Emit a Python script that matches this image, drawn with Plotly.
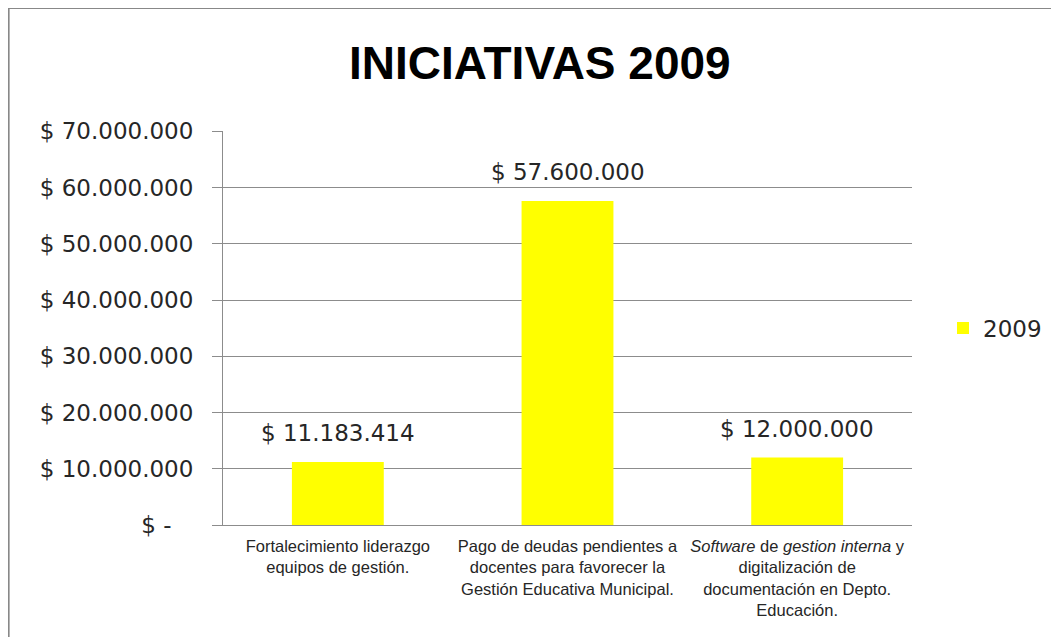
import plotly.graph_objects as go

categories = [
    "Fortalecimiento liderazgo<br>equipos de gestión.",
    "Pago de deudas pendientes a<br>docentes para favorecer la<br>Gestión Educativa Municipal.",
    "<i>Software</i> de <i>gestion interna</i> y<br>digitalización de<br>documentación en Depto.<br>Educación.",
]
values_2009 = [11183414, 57600000, 12000000]
value_labels = ["$ 11.183.414", "$ 57.600.000", "$ 12.000.000"]
tick_values = [0, 10000000, 20000000, 30000000, 40000000, 50000000, 60000000, 70000000]
tick_labels = ["$ -   ", "$ 10.000.000", "$ 20.000.000", "$ 30.000.000", "$ 40.000.000",
               "$ 50.000.000", "$ 60.000.000", "$ 70.000.000"]

BIG = dict(family="DejaVu Sans", size=23, color="#262626")

fig = go.Figure()
fig.add_trace(go.Bar(
    x=categories, y=values_2009, name="2009",
    marker=dict(color="#FFFF00", line=dict(width=0)),
    width=0.40,
))
for c, v, t in zip(categories, values_2009, value_labels):
    fig.add_annotation(x=c, y=v, text=t, showarrow=False, yanchor="bottom",
                       yshift=14, font=BIG)

fig.update_layout(
    width=1051, height=629,
    paper_bgcolor="white", plot_bgcolor="white",
    margin=dict(l=215, r=145, t=123, b=112),
    title=dict(text="<b>INICIATIVAS 2009</b>", x=0.506, xanchor="center",
               y=1 - 55 / 629, yanchor="middle",
               font=dict(family="Liberation Sans", size=46, color="#000")),
    showlegend=True,
    legend=dict(x=1.045, y=0.5, xanchor="left", yanchor="middle", font=BIG),
)
fig.update_yaxes(
    range=[0, 70050000], tickvals=tick_values, ticktext=tick_labels,
    showgrid=True, gridcolor="#8c8c8c", gridwidth=1,
    showline=True, linecolor="#8c8c8c", linewidth=1,
    ticks="outside", ticklen=10, tickcolor="#8c8c8c",
    ticklabelstandoff=14,
    tickfont=BIG,
    zeroline=False,
)
fig.update_xaxes(
    showline=True, linecolor="#8c8c8c", linewidth=1,
    ticks="", ticklabelstandoff=6,
    tickfont=dict(family="Liberation Sans", size=16.5, color="#262626"),
)
# outer frame
fig.add_shape(type="rect", xref="paper", yref="paper",
              x0=-215 / 691, x1=1.5, y0=-0.5, y1=1 + 123 / 394,
              line=dict(color="#888", width=2), fillcolor="rgba(0,0,0,0)", layer="below")

fig.write_html("out.html")
